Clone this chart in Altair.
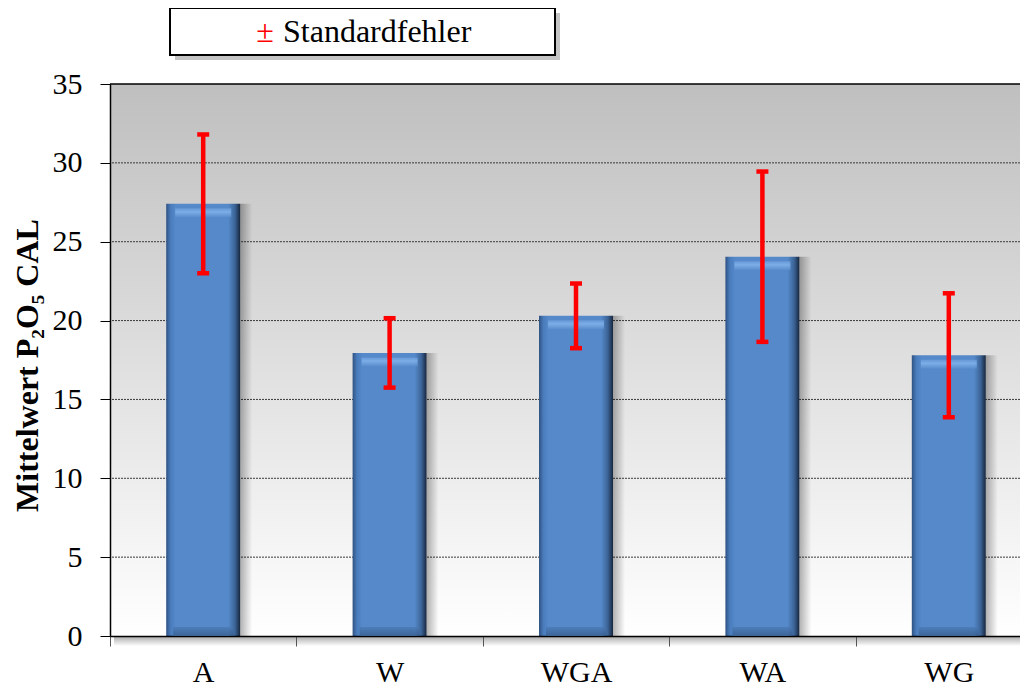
import json
import altair as alt
import pandas as pd

# ---------------- data ----------------
categories = ["A", "W", "WGA", "WA", "WG"]
means = [27.4, 17.95, 20.3, 24.05, 17.8]
std_errors = [4.4, 2.2, 2.05, 5.4, 3.93]
y_ticks = [0, 5, 10, 15, 20, 25, 30, 35]
y_title = "Mittelwert P₂O₅ CAL"
legend_symbol = "±"
legend_label = "Standardfehler"

# ---------------- layout ----------------
W, H = 910, 552
BAND = 186.4
XMAX = W / BAND
FONT = "Liberation Serif"

df = pd.DataFrame({"cat": categories, "mean": means, "se": std_errors})
df["pos"] = df.index + 0.5
df["lo"] = df["mean"] - df["se"]
df["hi"] = df["mean"] + df["se"]

one = pd.DataFrame({"k": [0]})
grid_df = pd.DataFrame({"v": [v for v in y_ticks if 0 < v < max(y_ticks)]})
top_df = pd.DataFrame({"v": [max(y_ticks)]})

xs = alt.Scale(domain=[0, XMAX], nice=False, zero=False, padding=0)
ys = alt.Scale(domain=[min(y_ticks), max(y_ticks)], nice=False, padding=0)

x_vals = [i * 0.5 for i in range(2 * len(categories))]
label_expr = "datum.value % 1 == 0 ? '' : " + json.dumps(categories) + "[floor(datum.value)]"

x_axis = alt.Axis(
    values=x_vals, tickSize=10, tickColor="#555555",
    tickOpacity={"condition": {"test": "datum.value % 1 != 0", "value": 0}, "value": 1},
    labelExpr=label_expr, labelFont=FONT, labelFontSize=30, labelColor="black",
    labelPadding=11, labelFlush=False, labelOverlap=False, labelAngle=0,
    domainColor="black", domainWidth=1.5, grid=False, title=None, zindex=1,
)
y_axis = alt.Axis(
    values=y_ticks, tickSize=10, tickColor="black", labelFont=FONT, labelFontSize=30,
    labelColor="black", labelPadding=18, domainColor="black", domainWidth=1.5,
    grid=False, title=y_title, titleFont=FONT, titleFontSize=32, titleFontWeight="bold",
    titleColor="black", titleAngle=270, titleAlign="center", titleBaseline="middle",
    titleX=-83, titleY=H / 2 + 5, zindex=1,
)

X = alt.X("pos:Q", scale=xs, axis=x_axis)

def grad(stops, vertical=False):
    return alt.LinearGradient(
        gradient="linear",
        stops=[alt.GradientStop(color=c, offset=o) for o, c in stops],
        x1=0, x2=0 if vertical else 1, y1=0, y2=1 if vertical else 0,
    )

background = alt.Chart(one).mark_rect(
    color=grad([(0, "#bfbfbf"), (1, "#ffffff")], vertical=True)
).encode(x=alt.value(0), x2=alt.value(W), y=alt.value(0), y2=alt.value(H))

under_shadow = alt.Chart(one).mark_rect(
    color=grad([(0, "#a8a8a8"), (1, "#ffffff")], vertical=True)
).encode(x=alt.value(4), x2=alt.value(W), y=alt.value(H), y2=alt.value(H + 10))

grid = alt.Chart(grid_df).mark_rule(color="#3a3a3a", strokeDash=[2, 1], strokeWidth=1).encode(
    y=alt.Y("v:Q", scale=ys, axis=y_axis)
)
top_line = alt.Chart(top_df).mark_rule(color="black", strokeWidth=1.5).encode(
    y=alt.Y("v:Q", scale=ys, axis=y_axis)
)

base = alt.Chart(df)
Y = alt.Y("mean:Q", scale=ys, axis=y_axis)

bar_shadow = base.mark_bar(
    orient="vertical", width=12, xOffset=43,
    color=grad([(0, "rgba(0,0,0,0.30)"), (1, "rgba(0,0,0,0)")]),
).encode(x=X, y=Y)

bars = base.mark_bar(
    orient="vertical", width=74,
    color=grad([(0, "#2f5283"), (0.06, "#4a7cbc"), (0.13, "#5589c9"),
                (0.84, "#5589c9"), (0.93, "#3b6396"), (1, "#17263d")]),
).encode(x=X, y=Y)

bevel_top = base.mark_tick(
    orient="horizontal", size=56, thickness=9, yOffset=9,
    color=grad([(0, "#6e9fdd"), (0.4, "#8dbdf4"), (1, "#5a8dcc")], vertical=True),
).encode(x=X, y=Y)

bevel_bottom = base.mark_tick(
    orient="horizontal", size=60, thickness=8, yOffset=-5,
    color=grad([(0, "#4a78b2"), (1, "#34598a")], vertical=True),
).encode(x=X, y=alt.datum(0, scale=ys))

err = base.mark_rule(color="#ff0000", strokeWidth=4.5).encode(
    x=X, y=alt.Y("lo:Q", scale=ys, axis=y_axis), y2="hi:Q"
)
cap_lo = base.mark_tick(orient="horizontal", color="#ff0000", size=12, thickness=4.5, opacity=1).encode(
    x=X, y=alt.Y("lo:Q", scale=ys, axis=y_axis)
)
cap_hi = base.mark_tick(orient="horizontal", color="#ff0000", size=12, thickness=4.5, opacity=1).encode(
    x=X, y=alt.Y("hi:Q", scale=ys, axis=y_axis)
)

legend_shadow = alt.Chart(one).mark_rect(color="#b5b5b5", opacity=0.8).encode(
    x=alt.value(65), x2=alt.value(450), y=alt.value(-71), y2=alt.value(-24)
)
legend_box = alt.Chart(one).mark_rect(fill="white", stroke="black", strokeWidth=2).encode(
    x=alt.value(60), x2=alt.value(445), y=alt.value(-76), y2=alt.value(-29)
)
legend_sym = alt.Chart(one).mark_text(
    text=legend_symbol, font=FONT, fontSize=32, color="#ff0000", align="center", baseline="middle"
).encode(x=alt.value(155), y=alt.value(-52))
legend_txt = alt.Chart(one).mark_text(
    text=legend_label, font=FONT, fontSize=32, color="black", align="left", baseline="middle"
).encode(x=alt.value(173), y=alt.value(-52))

chart = alt.layer(
    background, under_shadow, grid, top_line, bar_shadow, bars, bevel_top, bevel_bottom,
    err, cap_lo, cap_hi, legend_shadow, legend_box, legend_sym, legend_txt,
).properties(
    width=W, height=H,
    autosize=alt.AutoSizeParams(type="none"),
    padding={"left": 102, "top": 76, "right": 0, "bottom": 52},
).configure_view(stroke=None)

chart.save("out.html", embed_options={"renderer": "svg", "actions": False})
